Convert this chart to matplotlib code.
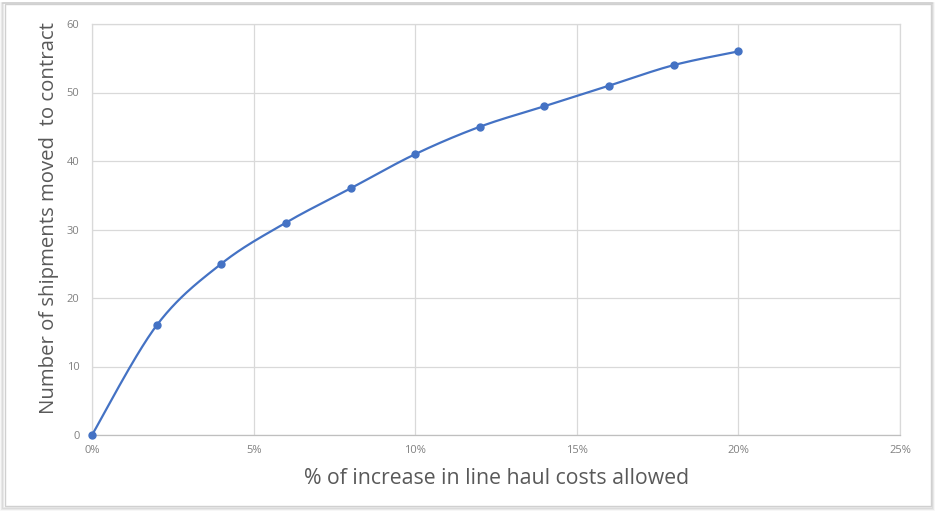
import numpy as np
import matplotlib
matplotlib.use("Agg")
import matplotlib.pyplot as plt
from matplotlib.patches import Rectangle
from matplotlib.ticker import FuncFormatter

# Data: allowed increase in line haul cost (%) vs shipments moved to contract
pct_increase = [0, 2, 4, 6, 8, 10, 12, 14, 16, 18, 20]
shipments = [0, 16, 25, 31, 36, 41, 45, 48, 51, 54, 56]
x_ticks = [0, 5, 10, 15, 20, 25]
y_ticks = [0, 10, 20, 30, 40, 50, 60]

XMAX, YMAX = 25, 60
LINE_COLOR = "#4472C4"
TICK_COLOR = "#808080"
TITLE_COLOR = "#595959"
GRID_COLOR = "#D9D9D9"
FONT = ["Open Sans", "DejaVu Sans"]

W, H, DPI = 936, 512, 100
fig = plt.figure(figsize=(W / DPI, H / DPI), dpi=DPI)
fig.patch.set_facecolor("white")

# Outer chart frame with a soft shadow on the edges
for i, a in enumerate([0.10, 0.07, 0.04]):
    fig.add_artist(Rectangle(((3 - i) / W, (4 - i) / H), (929 + 2 * i) / W, (505 + i) / H,
                             transform=fig.transFigure, fill=False, zorder=-10,
                             edgecolor=(0, 0, 0, a), linewidth=1.2))
fig.add_artist(Rectangle((5 / W, 6 / H), 926 / W, 502 / H, transform=fig.transFigure,
                         fill=True, facecolor="white", edgecolor="#D0D0D0",
                         linewidth=1.0, zorder=-9))

left, right = 92 / W, 900 / W
bottom, top = 1 - 435 / H, 1 - 24 / H
ax = fig.add_axes([left, bottom, right - left, top - bottom])
ax.set_zorder(5)
ax.set_facecolor("white")


def smooth_curve(xs, ys, n=40):
    """Catmull-Rom curve through the points, computed in axis-normalised space."""
    sx, sy = right - left, top - bottom
    px = np.asarray(xs, float) / XMAX * sx * W
    py = np.asarray(ys, float) / YMAX * sy * H
    P = np.column_stack([px, py])
    P = np.vstack([P[0], P, P[-1]])
    out = []
    for i in range(1, len(P) - 2):
        p0, p1, p2, p3 = P[i - 1], P[i], P[i + 1], P[i + 2]
        c1 = p1 + (p2 - p0) / 6
        c2 = p2 - (p3 - p1) / 6
        t = np.linspace(0, 1, n)[:, None]
        seg = ((1 - t) ** 3) * p1 + 3 * ((1 - t) ** 2) * t * c1 + 3 * (1 - t) * t ** 2 * c2 + t ** 3 * p2
        out.append(seg if i == 1 else seg[1:])
    pts = np.vstack(out)
    return pts[:, 0] / (sx * W) * XMAX, pts[:, 1] / (sy * H) * YMAX


cx, cy = smooth_curve(pct_increase, shipments)
ax.plot(cx, cy, color=LINE_COLOR, linewidth=1.6, solid_capstyle="round", zorder=3, clip_on=False)
ax.plot(pct_increase, shipments, linestyle="none", marker="o", markersize=5,
        color=LINE_COLOR, zorder=4, clip_on=False)

ax.set_xlim(0, XMAX)
ax.set_ylim(0, YMAX)
ax.set_xticks(x_ticks)
ax.set_yticks(y_ticks)
ax.xaxis.set_major_formatter(FuncFormatter(lambda v, p: f"{int(v)}%"))
ax.grid(True, color=GRID_COLOR, linewidth=0.9)
ax.set_axisbelow(True)
for side in ["top", "right", "left"]:
    ax.spines[side].set_color(GRID_COLOR)
    ax.spines[side].set_linewidth(0.9)
ax.spines["bottom"].set_color("#BFBFBF")
ax.spines["bottom"].set_linewidth(0.9)
ax.tick_params(length=0, labelsize=8, colors=TICK_COLOR)
ax.tick_params(axis="x", pad=7)
ax.tick_params(axis="y", pad=9)
for lab in ax.get_xticklabels() + ax.get_yticklabels():
    lab.set_family(FONT)

fig.text(497 / W, 1 - 478 / H, "% of increase in line haul costs allowed",
         ha="center", va="center", fontsize=15.3, color=TITLE_COLOR, family=FONT)
fig.text(49 / W, 1 - 218 / H, "Number of shipments moved  to contract",
         ha="center", va="center", rotation=90, fontsize=14.7, color=TITLE_COLOR, family=FONT)

fig.savefig("out.png", dpi=DPI, facecolor="white")
